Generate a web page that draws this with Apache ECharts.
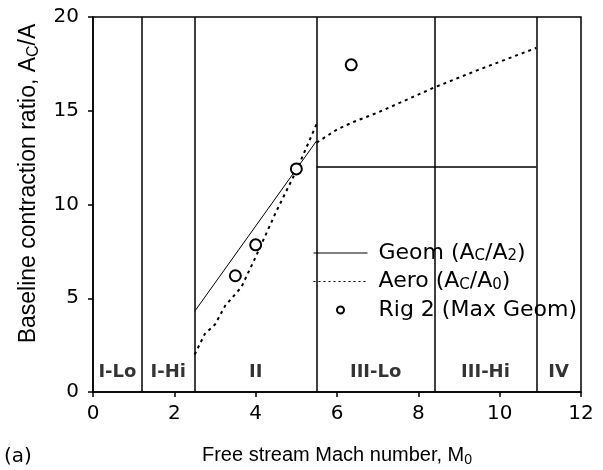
<!DOCTYPE html>
<html>
<head>
<meta charset="utf-8">
<script src="https://cdn.jsdelivr.net/npm/echarts@6/dist/echarts.min.js"></script>
<style>
  html, body { margin: 0; padding: 0; background: #fff; }
  #main { width: 603px; height: 470px; }
</style>
</head>
<body>
<div id="main"></div>
<script>
// regime boundaries (Mach) and labels
var regionBounds = [1.2, 2.5, 5.5, 8.4, 10.9];
var regionLabels = ['I-Lo', 'I-Hi', 'II', 'III-Lo', 'III-Hi', 'IV'];
var regionMid = [0.6, 1.85, 4.0, 6.95, 9.65, 11.45];
var regionLabelY = 1.05;

// geometric contraction ratio AC/A2
var geomMach = [2.5, 5.5];
var geomRatio = [4.3, 13.4];

// aero contraction ratio AC/A0 (two pieces, jump at M=5.5)
var aeroLoMach = [2.5, 2.75, 3.0, 3.25, 3.45, 3.65, 4.0, 4.5, 5.0, 5.5];
var aeroLoRatio = [2.0, 3.1, 3.6, 4.6, 5.1, 5.6, 7.2, 9.6, 11.8, 14.3];
var aeroHiMach = [5.5, 5.75, 6.0, 6.4, 7.0, 8.4, 9.5, 10.9];
var aeroHiRatio = [13.3, 13.65, 14.0, 14.4, 14.9, 16.25, 17.2, 18.35];

// Rig 2 (max geom)
var rigMach = [3.5, 4.0, 5.0, 6.35];
var rigRatio = [6.2, 7.85, 11.9, 17.45];

// horizontal boundary at AC/A = 12 between M 5.5 and 10.9
var shelfMach = [5.5, 10.9];
var shelfRatio = [12, 12];

function zip(a, b) {
  return a.map(function (v, i) { return [v, b[i]]; });
}

var FONT = '"DejaVu Sans", "Liberation Sans", Arial, sans-serif';
var SANS = '"Liberation Sans", Arial, Helvetica, sans-serif';
function subRich(size, family, pad) {
  return {
    s: { fontSize: size, verticalAlign: 'bottom', padding: [pad, 0, 0, 0], fontFamily: family, color: '#000' }
  };
}

var legendText = {
  'Geom': 'Geom (A{s|C}/A{s|2})',
  'Aero': 'Aero (A{s|C}/A{s|0})',
  'Rig 2': 'Rig 2 (Max Geom)'
};

var myChart = echarts.init(document.getElementById('main'));

var option = {
  animation: false,
  backgroundColor: '#fff',
  textStyle: { fontFamily: FONT, color: '#000' },
  grid: {
    show: true,
    left: 93, right: 22, top: 17, bottom: 78,
    outerBoundsMode: 'none',
    containLabel: false,
    borderColor: '#000', borderWidth: 1.5,
    backgroundColor: 'transparent'
  },
  xAxis: {
    type: 'value',
    min: 0, max: 12, interval: 2,
    name: 'Free stream Mach number, M{s|0}',
    nameLocation: 'middle',
    nameGap: 52,
    nameTextStyle: { fontSize: 20, color: '#000', fontFamily: SANS, rich: subRich(14, SANS, 9) },
    axisLine: { lineStyle: { color: '#000', width: 1.5 } },
    axisTick: { length: 5, lineStyle: { color: '#000', width: 1.5 } },
    axisLabel: { fontSize: 20, color: '#000', margin: 12, fontFamily: FONT },
    splitLine: { show: false }
  },
  yAxis: {
    type: 'value',
    min: 0, max: 20, interval: 5,
    name: 'Baseline contraction ratio, A{s|C}/A',
    nameLocation: 'middle',
    nameGap: 51,
    nameTextStyle: {
      fontSize: 23, color: '#000', fontFamily: SANS,
      padding: [0, 0, 0, 42],
      rich: subRich(16, SANS, 11)
    },
    axisLine: { lineStyle: { color: '#000', width: 1.5 } },
    axisTick: { length: 5, lineStyle: { color: '#000', width: 1.5 } },
    axisLabel: { fontSize: 20, color: '#000', margin: 14, fontFamily: FONT },
    splitLine: { show: false }
  },
  legend: {
    orient: 'vertical',
    left: 306, top: 237,
    padding: [5, 2, 6, 7],
    itemGap: 6.5,
    itemWidth: 54, itemHeight: 7,
    backgroundColor: '#fff',
    data: [
      { name: 'Geom', itemStyle: { opacity: 0 }, lineStyle: { width: 1 } },
      { name: 'Aero', itemStyle: { opacity: 0 }, lineStyle: { width: 1, type: [2, 3] } },
      { name: 'Rig 2', icon: 'circle' }
    ],
    formatter: function (name) { return legendText[name]; },
    textStyle: { fontSize: 22, color: '#000', fontFamily: FONT, lineHeight: 22, padding: [0, 0, 0, 6], rich: subRich(15, FONT, 10) }
  },
  series: [
    {
      name: 'regions',
      type: 'scatter',
      symbolSize: 0,
      silent: true,
      data: regionMid.map(function (m, i) { return [m, regionLabelY, regionLabels[i]]; }),
      label: {
        show: true,
        position: 'inside',
        formatter: function (p) { return p.value[2]; },
        fontSize: 18, fontWeight: 'bold', color: '#000', fontFamily: FONT
      },
      markLine: {
        silent: true,
        symbol: 'none',
        label: { show: false },
        lineStyle: { color: '#000', width: 1.5, type: 'solid' },
        data: regionBounds.map(function (b) { return { xAxis: b }; })
      },
      z: 1
    },
    {
      name: 'shelf',
      type: 'line',
      data: zip(shelfMach, shelfRatio),
      symbol: 'none',
      silent: true,
      lineStyle: { color: '#000', width: 1.5 },
      z: 1
    },
    {
      name: 'Geom',
      type: 'line',
      data: zip(geomMach, geomRatio),
      symbol: 'none',
      color: '#000',
      lineStyle: { color: '#000', width: 1 }
    },
    {
      name: 'Aero',
      type: 'line',
      data: zip(aeroLoMach, aeroLoRatio),
      symbol: 'none',
      color: '#000',
      lineStyle: { color: '#000', width: 2, type: [3, 4] }
    },
    {
      name: 'Aero',
      type: 'line',
      data: zip(aeroHiMach, aeroHiRatio),
      symbol: 'none',
      color: '#000',
      lineStyle: { color: '#000', width: 2, type: [3, 4] }
    },
    {
      name: 'Rig 2',
      type: 'scatter',
      data: zip(rigMach, rigRatio),
      symbol: 'circle',
      symbolSize: 11,
      itemStyle: { color: '#fff', borderColor: '#000', borderWidth: 2, opacity: 1 },
      z: 3
    }
  ],
  graphic: [
    {
      type: 'text',
      left: 4, top: 447,
      style: { text: '(a)', font: '20px ' + FONT, fill: '#000' }
    }
  ]
};

myChart.setOption(option);
</script>
</body>
</html>
